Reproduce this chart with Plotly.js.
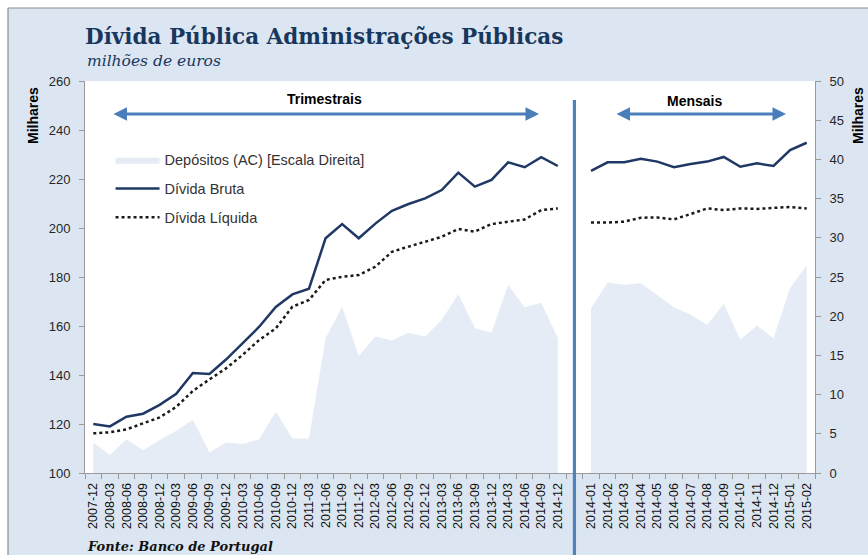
<!DOCTYPE html>
<html>
<head>
<meta charset="utf-8">
<script src="https://cdn.plot.ly/plotly-3.0.1.min.js"></script>
<style>html,body{margin:0;padding:0;background:#fff;}#chart{width:868px;height:555px;}</style>
</head>
<body>
<div id="chart"></div>
<script>
// ---- data ----
const quarters = ["2007-12","2008-03","2008-06","2008-09","2008-12","2009-03","2009-06","2009-09","2009-12","2010-03","2010-06","2010-09","2010-12","2011-03","2011-06","2011-09","2011-12","2012-03","2012-06","2012-09","2012-12","2013-03","2013-06","2013-09","2013-12","2014-03","2014-06","2014-09","2014-12"];
const brutaQ   = [120, 119, 123, 124.2, 127.8, 132.3, 140.8, 140.4, 146.3, 152.8, 159.7, 167.8, 172.9, 175.2, 195.8, 201.6, 195.8, 201.8, 207, 209.8, 212.1, 215.5, 222.6, 216.9, 219.6, 226.8, 224.8, 228.9, 225.3];
const liquidaQ = [116.2, 116.6, 117.8, 120.3, 122.7, 127, 133.5, 138.2, 142.7, 148.2, 154.3, 159, 167.9, 170.6, 178.8, 180.1, 180.8, 184.2, 190.3, 192.4, 194.4, 196.4, 199.6, 198.5, 201.6, 202.6, 203.5, 207.3, 208];
const depositosQ = [3.9, 2.3, 4.3, 2.9, 4.2, 5.4, 6.8, 2.6, 3.9, 3.7, 4.3, 7.8, 4.4, 4.4, 17.2, 21.2, 14.9, 17.4, 16.9, 17.9, 17.4, 19.5, 22.8, 18.5, 17.9, 24.0, 21.1, 21.7, 17.2];

const months = ["2014-01","2014-02","2014-03","2014-04","2014-05","2014-06","2014-07","2014-08","2014-09","2014-10","2014-11","2014-12","2015-01","2015-02"];
const brutaM   = [223.3, 226.8, 226.8, 228.3, 227.1, 224.8, 226.1, 227.1, 229, 225, 226.4, 225.3, 231.8, 234.8];
const liquidaM = [202.2, 202.2, 202.6, 204.2, 204.3, 203.5, 205.7, 208, 207.3, 208, 207.8, 208.1, 208.6, 208];
const depositosM = [21.0, 24.3, 24.0, 24.2, 22.7, 21.1, 20.2, 18.9, 21.6, 17.0, 18.8, 17.2, 23.6, 26.5];

// ---- positions on a shared index axis (one empty slot between the two blocks) ----
const xQ = quarters.map((_, i) => i);
const gapIndex = quarters.length;
const xM = months.map((_, j) => gapIndex + 1 + j);
const nCats = quarters.length + 1 + months.length;
const tickVals = xQ.concat(xM);
const tickText = quarters.concat(months);
const boundaries = [];
for (let k = 0; k <= nCats; k++) boundaries.push(k - 0.5);

const NAVY = "#1f3864";
const AREA = "#e5ecf6";

const traces = [
  {x: xQ, y: depositosQ, yaxis: "y", type: "scatter", mode: "lines", fill: "tozeroy",
   fillcolor: AREA, line: {width: 0, color: AREA}, name: "Depósitos (AC) [Escala Direita]",
   legendgroup: "a", showlegend: true},
  {x: xM, y: depositosM, yaxis: "y", type: "scatter", mode: "lines", fill: "tozeroy",
   fillcolor: AREA, line: {width: 0, color: AREA}, name: "Depósitos (AC) [Escala Direita]",
   legendgroup: "a", showlegend: false},
  {x: xQ, y: brutaQ, yaxis: "y2", type: "scatter", mode: "lines",
   line: {color: NAVY, width: 2.5}, name: "Dívida Bruta", legendgroup: "b", showlegend: true},
  {x: xM, y: brutaM, yaxis: "y2", type: "scatter", mode: "lines",
   line: {color: NAVY, width: 2.5}, name: "Dívida Bruta", legendgroup: "b", showlegend: false},
  {x: xQ, y: liquidaQ, yaxis: "y2", type: "scatter", mode: "lines",
   line: {color: "#1a1a1a", width: 2.5, dash: "dot"}, name: "Dívida Líquida", legendgroup: "c", showlegend: true},
  {x: xM, y: liquidaM, yaxis: "y2", type: "scatter", mode: "lines",
   line: {color: "#1a1a1a", width: 2.5, dash: "dot"}, name: "Dívida Líquida", legendgroup: "c", showlegend: false}
];

const tickFont = {family: "Liberation Sans, Arial, sans-serif", size: 13, color: "#262626"};
const BG = "#dce6f2";
const ARROW = "#4a7ebb";
const SERIF = "DejaVu Serif, Georgia, serif";

const layout = {
  width: 868, height: 555,
  margin: {l: 85, r: 53, t: 81, b: 82, pad: 0},
  paper_bgcolor: BG,
  plot_bgcolor: "#ffffff",
  hovermode: false,
  showlegend: true,
  title: {
    text: "Dívida Pública Administrações Públicas",
    font: {family: SERIF, size: 21.5, color: "#17375e", weight: "bold"},
    x: 85 / 868, xanchor: "left", xref: "container",
    y: 1 - 36 / 555, yanchor: "middle", yref: "container"
  },
  xaxis: {
    range: [-0.5, nCats - 0.5],
    tickmode: "array", tickvals: tickVals, ticktext: tickText,
    tickangle: -90, tickfont: {family: "Liberation Sans, Arial, sans-serif", size: 12.5, color: "#111"},
    ticks: "outside", ticklen: 4, tickcolor: "rgba(0,0,0,0)",
    showline: true, linecolor: "#9a9a9a", linewidth: 1,
    showgrid: false, zeroline: false,
    minor: {tickmode: "array", tickvals: boundaries, ticks: "outside", ticklen: 5, tickcolor: "#9a9a9a", showgrid: false}
  },
  yaxis: {
    range: [0, 50], dtick: 5, side: "right",
    ticks: "outside", ticklen: 5, tickcolor: "#9a9a9a",
    showline: true, linecolor: "#9a9a9a", linewidth: 1,
    showgrid: false, zeroline: false, tickfont: tickFont, ticklabelstandoff: 6
  },
  yaxis2: {
    range: [100, 260], dtick: 20, side: "left", overlaying: "y",
    ticks: "outside", ticklen: 5, tickcolor: "#9a9a9a",
    showline: true, linecolor: "#9a9a9a", linewidth: 1,
    showgrid: false, zeroline: false, tickfont: tickFont, ticklabelstandoff: 6
  },
  legend: {
    x: 0.035, y: 0.84, xanchor: "left", yanchor: "top",
    bgcolor: "rgba(0,0,0,0)", borderwidth: 0,
    font: {family: "Liberation Sans, Arial, sans-serif", size: 14.5, color: "#333"},
    traceorder: "grouped", tracegroupgap: 7, itemwidth: 44
  },
  shapes: [
    // white strips outside the frame
    {type: "rect", xref: "paper", yref: "paper", x0: -85/730, x1: -77/730, y0: -0.3, y1: 1.3,
     fillcolor: "#ffffff", line: {width: 0}, layer: "below"},
    {type: "rect", xref: "paper", yref: "paper", x0: -0.2, x1: 1.2, y0: (473-8)/392, y1: 1.3,
     fillcolor: "#ffffff", line: {width: 0}, layer: "below"},
    // frame lines
    {type: "line", xref: "paper", yref: "paper", x0: -77/730, x1: -77/730, y0: -0.3, y1: (473-8)/392,
     line: {color: "#8c8c8c", width: 1.2}},
    {type: "line", xref: "paper", yref: "paper", x0: -77/730, x1: 1.2, y0: (473-8)/392, y1: (473-8)/392,
     line: {color: "#8c8c8c", width: 1.2}},
    // separator between quarterly and monthly blocks
    {type: "line", xref: "x", yref: "paper", x0: gapIndex, x1: gapIndex, y0: -0.22, y1: (473-100)/392,
     line: {color: "#4f81bd", width: 3.2}}
  ],
  annotations: [
    {text: "<i>milhões de euros</i>", xref: "paper", yref: "paper", x: 0, y: (473-61)/392,
     xanchor: "left", yanchor: "middle", showarrow: false,
     font: {family: SERIF, size: 15.5, color: "#17375e"}},
    {text: "<b><i>Fonte: Banco de Portugal</i></b>", xref: "paper", yref: "paper", x: 0, y: (473-546)/392,
     xanchor: "left", yanchor: "middle", showarrow: false,
     font: {family: SERIF, size: 13, color: "#111"}},
    {text: "<b>Milhares</b>", xref: "paper", yref: "paper", x: -52/730, y: (473-116)/392,
     xanchor: "center", yanchor: "middle", textangle: -90, showarrow: false,
     font: {family: "Liberation Sans, Arial, sans-serif", size: 14, color: "#000"}},
    {text: "<b>Milhares</b>", xref: "paper", yref: "paper", x: 1 + 43/730, y: (473-116)/392,
     xanchor: "center", yanchor: "middle", textangle: -90, showarrow: false,
     font: {family: "Liberation Sans, Arial, sans-serif", size: 14, color: "#000"}},
    {text: "<b>Trimestrais</b>", xref: "paper", yref: "paper", x: (324-85)/730, y: (473-99)/392,
     xanchor: "center", yanchor: "middle", showarrow: false,
     font: {family: "Liberation Sans, Arial, sans-serif", size: 14, color: "#000"}},
    {text: "<b>Mensais</b>", xref: "paper", yref: "paper", x: (694-85)/730, y: (473-101)/392,
     xanchor: "center", yanchor: "middle", showarrow: false,
     font: {family: "Liberation Sans, Arial, sans-serif", size: 14, color: "#000"}},
    {text: "", xref: "paper", yref: "paper", x: (539-85)/730, y: (473-114)/392,
     axref: "pixel", ayref: "pixel", ax: -(539-112), ay: 0, showarrow: true,
     arrowside: "end+start", arrowhead: 2, startarrowhead: 2, arrowsize: 0.9, startarrowsize: 0.9, arrowwidth: 3, arrowcolor: ARROW},
    {text: "", xref: "paper", yref: "paper", x: (786-85)/730, y: (473-114)/392,
     axref: "pixel", ayref: "pixel", ax: -(786-615), ay: 0, showarrow: true,
     arrowside: "end+start", arrowhead: 2, startarrowhead: 2, arrowsize: 0.9, startarrowsize: 0.9, arrowwidth: 3, arrowcolor: ARROW}
  ]
};

Plotly.newPlot("chart", traces, layout, {displayModeBar: false, staticPlot: true});
</script>
</body>
</html>
